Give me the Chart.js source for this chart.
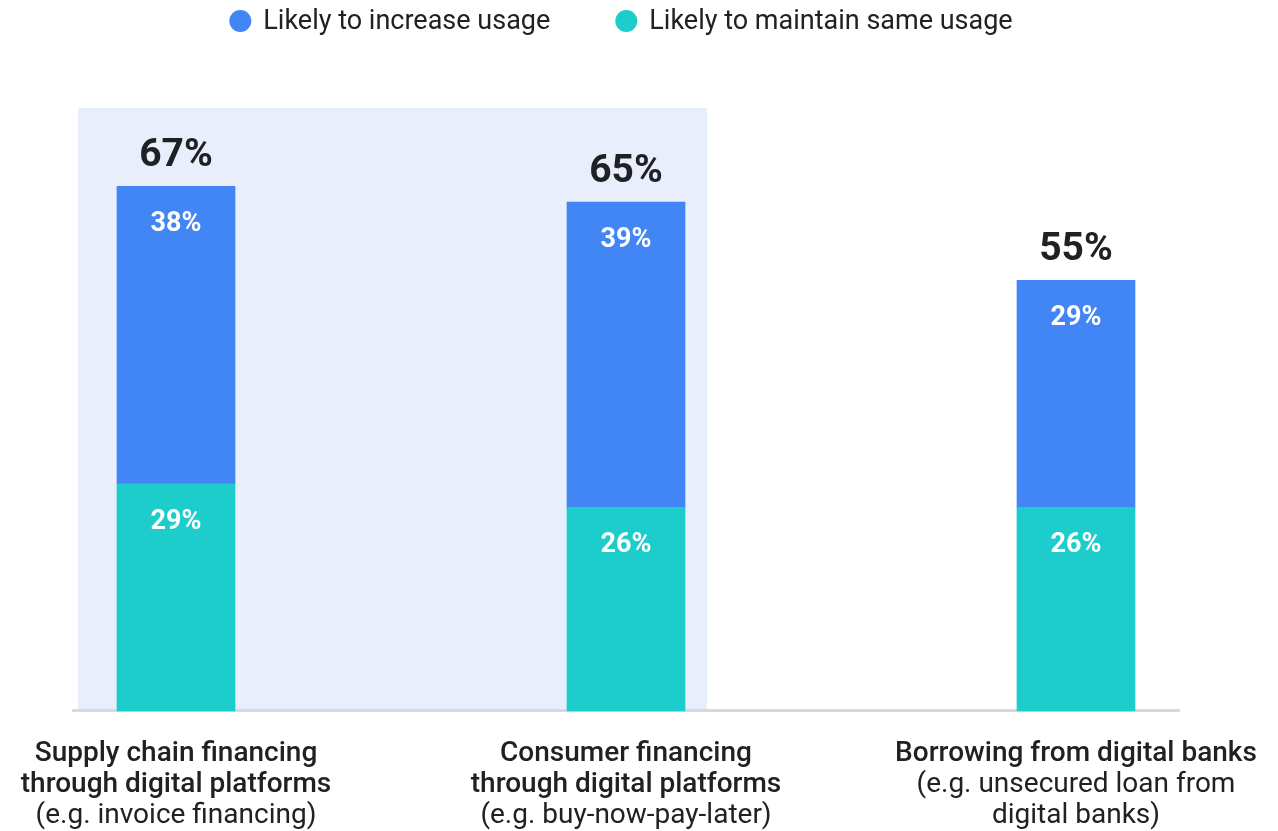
<!DOCTYPE html>
<html>
<head>
<meta charset="utf-8">
<script src="https://cdn.jsdelivr.net/npm/chart.js@4/dist/chart.umd.min.js"></script>
<style>
  html, body { margin: 0; padding: 0; background: #ffffff; }
  #wrap { width: 1278px; height: 831px; }
</style>
</head>
<body>
<div id="wrap"><canvas id="c" width="1278" height="831"></canvas></div>
<script>
// Category names: headline lines (medium weight) and note lines (regular weight)
const categoryTitles = [
  ["Supply chain financing", "through digital platforms"],
  ["Consumer financing", "through digital platforms"],
  ["Borrowing from digital banks"]
];
const categoryNotes = [
  ["(e.g. invoice financing)"],
  ["(e.g. buy-now-pay-later)"],
  ["(e.g. unsecured loan from", "digital banks)"]
];
const categories = categoryTitles.map(t => t.join(" "));

// Share of respondents (%)
const increaseUsage = [38, 39, 29];
const maintainUsage = [29, 26, 26];

const seriesNames = ["Likely to increase usage", "Likely to maintain same usage"];
const highlightedCategories = [0, 1];

const FONT = "Roboto, 'Open Sans', 'DejaVu Sans', sans-serif";
const TEXT = "#202124";
const BLUE = "#4285F4";
const TEAL = "#1CCDCB";

// Shaded panel behind the highlighted categories and the baseline rule
const backdropPlugin = {
  id: "backdrop",
  beforeDatasetsDraw(chart) {
    const { ctx, chartArea, scales: { x, y } } = chart;
    const base = y.getPixelForValue(0);
    const first = Math.min(...highlightedCategories);
    const last = Math.max(...highlightedCategories);
    ctx.save();
    ctx.fillStyle = "#E8EEFB";
    const left = x.getPixelForValue(first) - 98;
    const right = x.getPixelForValue(last) + 81;
    ctx.fillRect(left, chartArea.top, right - left, base - 2 - chartArea.top);
    ctx.fillStyle = "#D9D9D9";
    const l0 = x.getPixelForValue(0) - 104;
    const l1 = x.getPixelForValue(categories.length - 1) + 104;
    ctx.fillRect(l0, base - 2, l1 - l0, 3);
    ctx.restore();
  }
};

// Legend row: round swatches with the series names, centred over the plot
const legendRowPlugin = {
  id: "legendRow",
  afterDraw(chart) {
    const { ctx, scales: { x } } = chart;
    const r = 11, swatchGap = 12, itemGap = 65, cy = 21;
    ctx.save();
    ctx.font = "400 27px " + FONT;
    ctx.textBaseline = "middle";
    ctx.textAlign = "left";
    const order = [1, 0]; // increase first, then maintain
    const items = order.map(di => {
      const ds = chart.data.datasets[di];
      return { label: ds.label, color: ds.backgroundColor, w: ctx.measureText(ds.label).width };
    });
    const total = items.reduce((s, it) => s + 2 * r + swatchGap + it.w, 0) + itemGap * (items.length - 1);
    const mid = (x.getPixelForValue(0) + x.getPixelForValue(categories.length - 1)) / 2 - 5;
    let cx = mid - total / 2;
    items.forEach(it => {
      ctx.fillStyle = it.color;
      ctx.beginPath();
      ctx.arc(cx + r, cy, r, 0, Math.PI * 2);
      ctx.fill();
      ctx.fillStyle = TEXT;
      ctx.fillText(it.label, cx + 2 * r + swatchGap, cy + 1);
      cx += 2 * r + swatchGap + it.w + itemGap;
    });
    ctx.restore();
  }
};

// Segment values, stack totals and multi-weight category labels
const labelsPlugin = {
  id: "valueLabels",
  afterDatasetsDraw(chart) {
    const { ctx, scales: { x, y } } = chart;
    ctx.save();
    ctx.textAlign = "center";
    ctx.textBaseline = "alphabetic";

    // values inside each segment, near its top
    ctx.font = "bold 27px " + FONT;
    ctx.fillStyle = "#ffffff";
    chart.data.datasets.forEach((ds, di) => {
      const meta = chart.getDatasetMeta(di);
      meta.data.forEach((bar, i) => {
        ctx.fillText(ds.data[i] + "%", bar.x, bar.y + 45);
      });
    });

    // totals above each stack
    ctx.font = "bold 39px " + FONT;
    ctx.fillStyle = TEXT;
    categories.forEach((c, i) => {
      const total = increaseUsage[i] + maintainUsage[i];
      ctx.fillText(total + "%", x.getPixelForValue(i), y.getPixelForValue(total) - 20);
    });

    // category labels under the baseline
    categories.forEach((c, i) => {
      const cx = x.getPixelForValue(i);
      let by = y.getPixelForValue(0) + 50;
      ctx.font = "500 28px " + FONT;
      categoryTitles[i].forEach(line => { ctx.fillText(line, cx, by); by += 31; });
      ctx.font = "400 28px " + FONT;
      categoryNotes[i].forEach(line => { ctx.fillText(line, cx, by); by += 31; });
    });
    ctx.restore();
  }
};

new Chart(document.getElementById("c"), {
  type: "bar",
  data: {
    labels: categories,
    datasets: [
      { label: seriesNames[1], data: maintainUsage, backgroundColor: TEAL },
      { label: seriesNames[0], data: increaseUsage, backgroundColor: BLUE }
    ]
  },
  plugins: [backdropPlugin, labelsPlugin, legendRowPlugin],
  options: {
    responsive: false,
    animation: false,
    clip: false,
    layout: { padding: { left: 176, right: 202, top: 108, bottom: 120 } },
    datasets: { bar: { barThickness: 118, borderWidth: 0, clip: false } },
    scales: {
      x: { stacked: true, offset: false, display: false },
      y: { stacked: true, min: 0, max: 77, display: false }
    },
    plugins: {
      tooltip: { enabled: false },
      legend: { display: false }
    }
  }
});
</script>
</body>
</html>
